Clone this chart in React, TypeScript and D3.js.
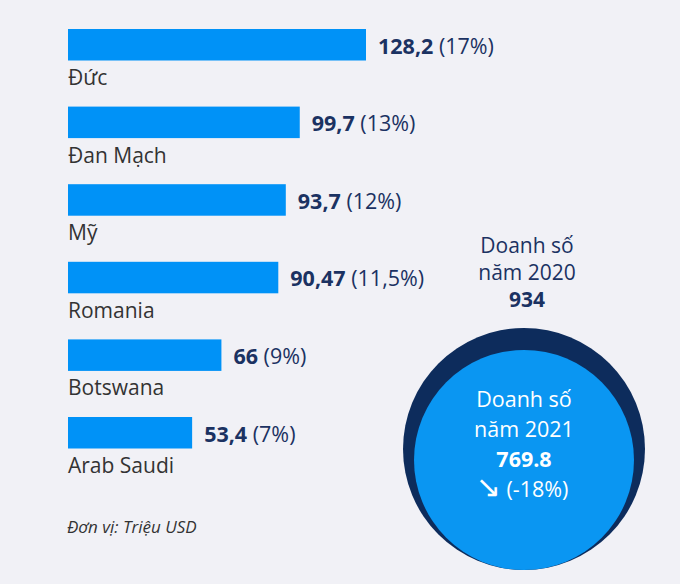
import React from "react";
import * as d3 from "d3";

const countries = ["Đức", "Đan Mạch", "Mỹ", "Romania", "Botswana", "Arab Saudi"];
const values = [128.2, 99.7, 93.7, 90.47, 66, 53.4];
const valueLabels = ["128,2", "99,7", "93,7", "90,47", "66", "53,4"];
const shareLabels = ["(17%)", "(13%)", "(12%)", "(11,5%)", "(9%)", "(7%)"];
const total2020Lines = ["Doanh số", "năm 2020", "934"];
const total2021Lines = ["Doanh số", "năm 2021", "769.8"];
const changeArrow = "↘";
const changeLabel = "(-18%)";
const unitNote = "Đơn vị: Triệu USD";

const W = 680;
const H = 584;
const BG = "#f1f1f6";
const BAR = "#0092f7";
const NAVY = "#1b3262";
const DARK_CIRCLE = "#0d2c5c";
const LIGHT_CIRCLE = "#0a96f2";
const FONT = "'Open Sans', 'Noto Sans', 'DejaVu Sans', sans-serif";

export default function App() {
  const x = d3.scaleLinear().domain([0, d3.max(values) as number]).range([68, 366]);
  const pad = 0.594;
  const step = 77.6;
  const y = d3
    .scaleBand<string>()
    .domain(countries)
    .range([29, 29 + step * (countries.length - pad)])
    .paddingInner(pad)
    .paddingOuter(0);
  const bw = y.bandwidth();

  return (
    <div style={{ position: "absolute", left: 0, top: 0 }}>
      <svg width={W} height={H} style={{ display: "block", fontFamily: FONT }}>
        <rect x={0} y={0} width={W} height={H} fill={BG} />
        {countries.map((c, i) => {
          const y0 = y(c) as number;
          const x1 = x(values[i]);
          return (
            <g key={c}>
              <rect x={x(0)} y={y0} width={x1 - x(0)} height={bw} fill={BAR} />
              <text x={x1 + 12} y={y0 + 24.5} fontSize={21.5} fill={NAVY}>
                <tspan fontWeight={700}>{valueLabels[i]}</tspan>
                <tspan> {shareLabels[i]}</tspan>
              </text>
              <text x={x(0)} y={y0 + bw + 24.5} fontSize={21} fill="#333333">
                {c}
              </text>
            </g>
          );
        })}
        {total2020Lines.map((t, i) => (
          <text
            key={"a" + i}
            x={527}
            y={253 + i * 27}
            fontSize={21}
            fill={NAVY}
            textAnchor="middle"
            fontWeight={i === 2 ? 700 : 400}
          >
            {t}
          </text>
        ))}
        <circle cx={524} cy={449} r={121} fill={DARK_CIRCLE} />
        <circle cx={524} cy={460} r={110} fill={LIGHT_CIRCLE} />
        {total2021Lines.map((t, i) => (
          <text
            key={"b" + i}
            x={524}
            y={407 + i * 30}
            fontSize={21.5}
            fill="#ffffff"
            textAnchor="middle"
            fontWeight={i === 2 ? 700 : 400}
          >
            {t}
          </text>
        ))}
        <text x={522} y={497} fill="#ffffff" textAnchor="middle">
          <tspan fontSize={30} fontFamily="'DejaVu Sans', sans-serif">{changeArrow}</tspan>
          <tspan fontSize={21.5}> {changeLabel}</tspan>
        </text>
        <text x={67} y={533} fontSize={17} fontStyle="italic" fill="#333333">
          {unitNote}
        </text>
      </svg>
    </div>
  );
}
